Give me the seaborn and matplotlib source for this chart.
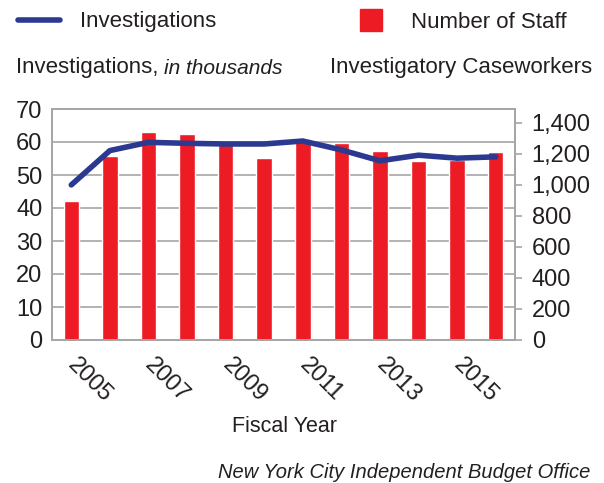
import numpy as np
import pandas as pd
import matplotlib
matplotlib.use('Agg')
import matplotlib.pyplot as plt
from matplotlib.lines import Line2D
from matplotlib.ticker import FixedLocator, FuncFormatter
import seaborn as sns

# data
years = [2005, 2006, 2007, 2008, 2009, 2010, 2011, 2012, 2013, 2014, 2015, 2016]
investigations = [47.0, 57.4, 59.9, 59.6, 59.4, 59.4, 60.3, 57.6, 54.3, 56.0, 55.1, 55.5]  # thousands
staff = [894, 1185, 1340, 1329, 1280, 1174, 1280, 1271, 1221, 1152, 1163, 1212]
tick_years = [2005, 2007, 2009, 2011, 2013, 2015]
left_ticks = [0, 10, 20, 30, 40, 50, 60, 70]
right_ticks = [0, 200, 400, 600, 800, 1000, 1200, 1400]

df = pd.DataFrame({'year': years, 'investigations': investigations, 'staff': staff})

sns.set_style('white')
plt.rcParams['font.family'] = ['Liberation Sans', 'DejaVu Sans']

red = '#ED1C24'
blue = '#2B3990'
grey = '#A6A6A6'
txt = '#231F20'
fs = 16
tfs = 17

fig = plt.figure(figsize=(6.04, 4.83), dpi=100)
ax_line = fig.add_axes([52 / 604, 1 - 340 / 483, 463 / 604, 231 / 483])
ax_bar = ax_line.twinx()
ax_line.set_zorder(2)
ax_bar.set_zorder(1)
ax_line.patch.set_visible(False)

sns.barplot(data=df, x='year', y='staff', native_scale=True, width=0.4, color=red,
            saturation=1, errorbar=None, ax=ax_bar, zorder=2)
sns.lineplot(data=df, x='year', y='investigations', color=blue, lw=4,
             solid_capstyle='round', ax=ax_line)

ax_line.set_xlim(2004.5, 2016.5)
ax_line.set_ylim(0, 70)
ax_bar.set_ylim(0, 1490)

# left axis
ax_line.set_yticks(left_ticks)
ax_line.tick_params(axis='y', length=0, pad=7, labelsize=tfs, labelcolor=txt)
ax_line.set_ylabel('')
ax_line.set_xlabel('')

# right axis
ax_bar.set_yticks(right_ticks)
ax_bar.yaxis.set_major_formatter(FuncFormatter(lambda v, p: f'{v:,.0f}'))
ax_bar.tick_params(axis='y', which='major', length=5, width=1.2, color=grey, pad=7,
                   labelsize=tfs, labelcolor=txt)
ax_bar.set_ylabel('')
ax_bar.set_xlabel('')

# horizontal grid follows the left-axis ticks
grid_pos = [t * 1490 / 70 for t in left_ticks[1:-1]]
ax_bar.yaxis.set_minor_locator(FixedLocator(grid_pos))
ax_bar.tick_params(axis='y', which='minor', length=0)
ax_bar.grid(which='minor', axis='y', color=grey, lw=1.2)
ax_bar.grid(which='major', visible=False)
ax_bar.set_axisbelow(True)

# x axis
ax_line.set_xticks(tick_years)
ax_line.set_xticklabels([str(y) for y in tick_years], rotation=-45, ha='left',
                        va='center', rotation_mode='anchor')
ax_line.tick_params(axis='x', which='major', length=0, pad=16, labelsize=tfs, labelcolor=txt)
ax_line.xaxis.set_minor_locator(FixedLocator(np.arange(2004.5, 2017, 1)))
ax_line.tick_params(axis='x', which='minor', length=5, width=1.2, color=grey)

for a in (ax_line, ax_bar):
    for s in a.spines.values():
        s.set_color(grey)
        s.set_linewidth(1.3)

# legend
h1 = Line2D([], [], color=blue, lw=4, solid_capstyle='round')
fig.legend([h1], ['Investigations'], loc='center left', bbox_to_anchor=(18 / 604, 1 - 22 / 483),
           frameon=False, borderpad=0, borderaxespad=0, handlelength=1.9, handletextpad=0.9,
           fontsize=fs, labelcolor=txt)
h2 = Line2D([], [], marker='s', ls='', color=red, markersize=16)
fig.legend([h2], ['Number of Staff'], loc='center left', bbox_to_anchor=(360 / 604, 1 - 22 / 483),
           frameon=False, borderpad=0, borderaxespad=0, handlelength=1.0, handletextpad=1.3,
           fontsize=fs, labelcolor=txt)

t1 = fig.text(16 / 604, 1 - 68 / 483, 'Investigations, ', fontsize=fs, color=txt, va='center')
ax_line.annotate('in thousands', xy=(1, 0), xycoords=t1, va='bottom', ha='left',
                 fontsize=15, color=txt, style='italic', annotation_clip=False)
fig.text(592 / 604, 1 - 68 / 483, 'Investigatory Caseworkers', fontsize=fs, color=txt,
         ha='right', va='center')

fig.text(284 / 604, 1 - 426 / 483, 'Fiscal Year', fontsize=15.5, color=txt, ha='center', va='center')
fig.text(590 / 604, 1 - 472 / 483, 'New York City Independent Budget Office', fontsize=14.5,
         color=txt, ha='right', va='center', style='italic')

fig.savefig('out.png', dpi=100)
